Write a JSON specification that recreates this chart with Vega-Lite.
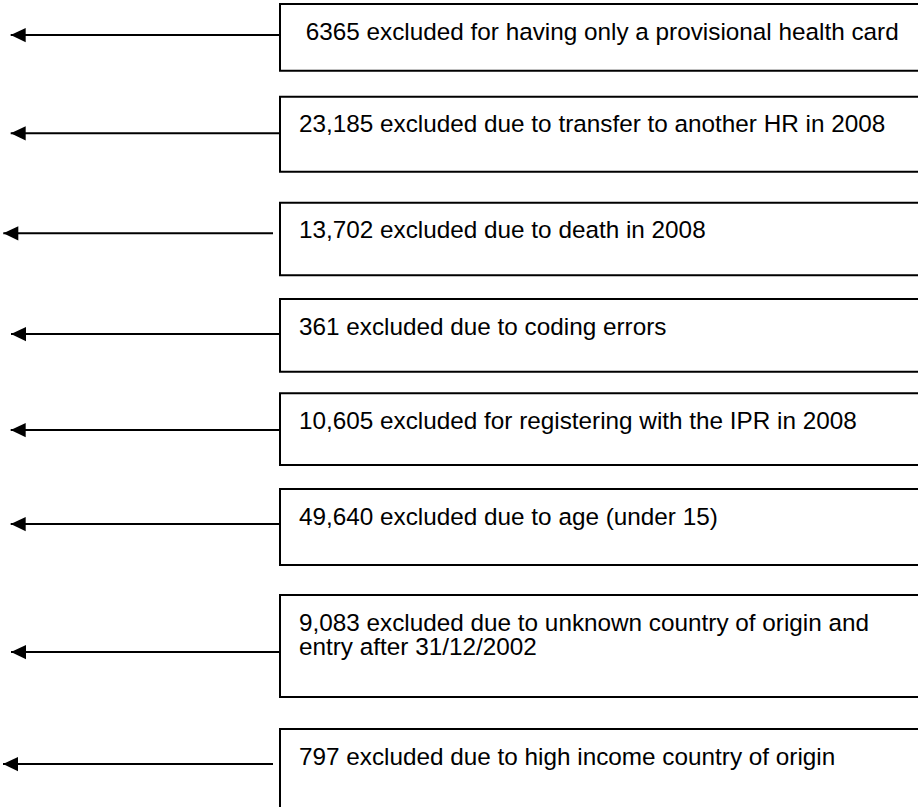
{
  "$schema": "https://vega.github.io/schema/vega-lite/v6.json",
  "width": 918,
  "height": 807,
  "autosize": {"type": "fit", "contains": "padding"},
  "padding": 0,
  "background": "white",
  "config": {"view": {"stroke": null}},
  "data": {
    "values": [
      {"id": 1, "label": "\u200b\u00a06365 excluded for having only a provisional health card", "top": 4, "bottom": 70.7, "left": 280, "right": 930, "arrowY": 35, "tip": 10.7, "tail": 280},
      {"id": 2, "label": "23,185 excluded due to transfer to another HR in 2008", "top": 96.7, "bottom": 171.7, "left": 280, "right": 930, "arrowY": 133.3, "tip": 10.7, "tail": 280},
      {"id": 3, "label": "13,702 excluded due to death in 2008", "top": 202.7, "bottom": 275.3, "left": 280, "right": 930, "arrowY": 233.3, "tip": 3.3, "tail": 273},
      {"id": 4, "label": "361 excluded due to coding errors", "top": 299, "bottom": 371.7, "left": 280, "right": 930, "arrowY": 334, "tip": 11, "tail": 280},
      {"id": 5, "label": "10,605 excluded for registering with the IPR in 2008", "top": 393.3, "bottom": 465, "left": 280, "right": 930, "arrowY": 430, "tip": 10.7, "tail": 280},
      {"id": 6, "label": "49,640 excluded due to age (under 15)", "top": 489, "bottom": 565, "left": 280, "right": 930, "arrowY": 524, "tip": 10.7, "tail": 280},
      {"id": 7, "label": "9,083 excluded due to unknown country of origin and\nentry after 31/12/2002", "top": 595, "bottom": 697, "left": 280, "right": 930, "arrowY": 652, "tip": 11, "tail": 280},
      {"id": 8, "label": "797 excluded due to high income country of origin", "top": 729, "bottom": 830, "left": 280, "right": 930, "arrowY": 764, "tip": 3, "tail": 273}
    ]
  },
  "layer": [
    {
      "mark": {"type": "rect", "filled": false, "stroke": "black", "strokeWidth": 2, "clip": true},
      "encoding": {
        "x": {"field": "left", "type": "quantitative", "scale": {"domain": [0, 918], "nice": false, "zero": false}, "axis": null},
        "x2": {"field": "right"},
        "y": {"field": "top", "type": "quantitative", "scale": {"domain": [0, 807], "nice": false, "zero": false, "reverse": true}, "axis": null},
        "y2": {"field": "bottom"}
      }
    },
    {
      "mark": {"type": "rule", "stroke": "black", "strokeWidth": 2},
      "encoding": {
        "x": {"field": "tip", "type": "quantitative"},
        "x2": {"field": "tail"},
        "y": {"field": "arrowY", "type": "quantitative"}
      }
    },
    {
      "mark": {"type": "point", "filled": true, "shape": "M0,0L2,-0.95L2,0.95Z", "size": 225, "color": "black", "opacity": 1, "strokeWidth": 0},
      "encoding": {
        "x": {"field": "tip", "type": "quantitative"},
        "y": {"field": "arrowY", "type": "quantitative"}
      }
    },
    {
      "mark": {"type": "text", "align": "left", "baseline": "alphabetic", "dx": 19, "dy": 35.5, "font": "Liberation Sans", "fontSize": 24.3, "lineHeight": 24, "lineBreak": "\n", "color": "black"},
      "encoding": {
        "x": {"field": "left", "type": "quantitative"},
        "y": {"field": "top", "type": "quantitative"},
        "text": {"field": "label", "type": "nominal"}
      }
    }
  ]
}
